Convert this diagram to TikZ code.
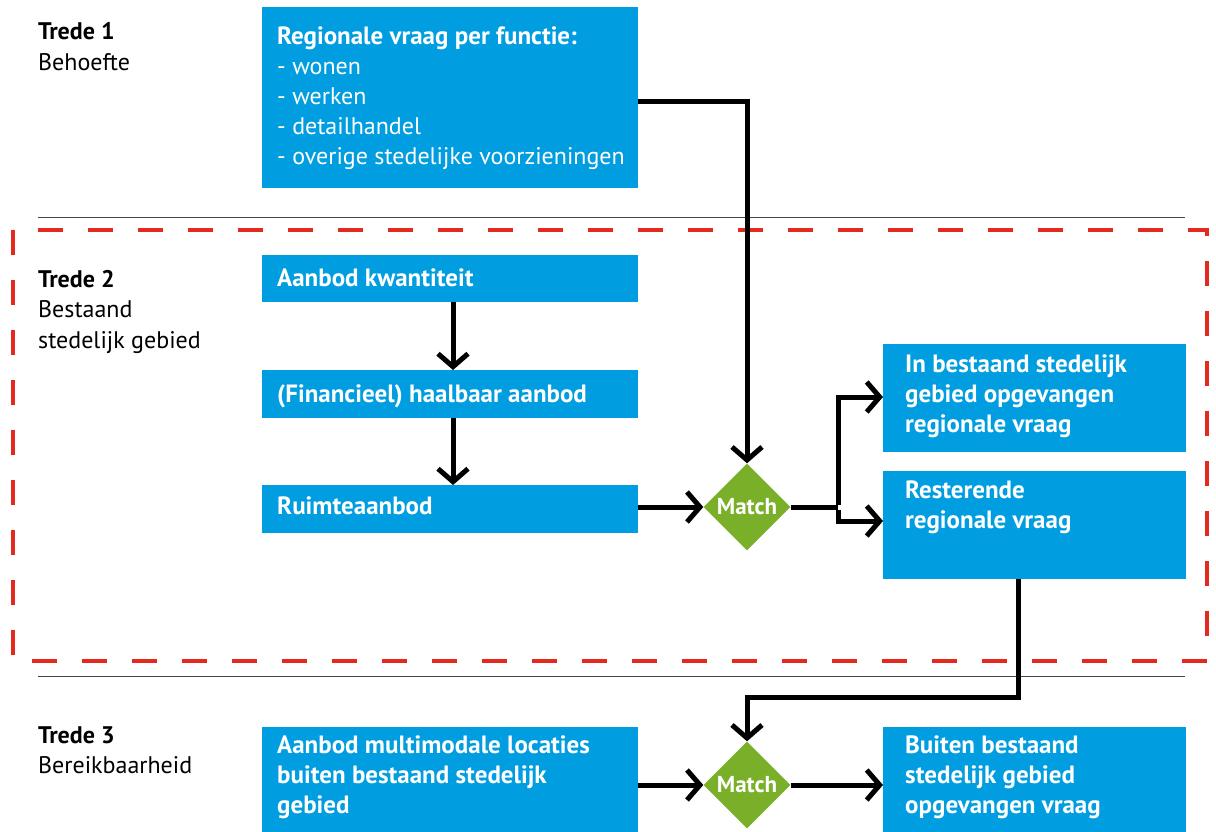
\documentclass[tikz,border=0pt]{standalone}
\usepackage{fontspec}
\setmainfont{PT Sans}
\usetikzlibrary{arrows.meta,shapes.geometric}
\definecolor{rblue}{RGB}{0,158,224}
\definecolor{mgreen}{RGB}{122,175,42}
\definecolor{dred}{RGB}{228,42,30}
\definecolor{sepgray}{RGB}{70,70,70}
\begin{document}
\begin{tikzpicture}[x=1pt,y=-1pt,
  box/.style={fill=rblue, draw=none, anchor=north west, inner sep=0pt, outer sep=0pt},
  txt/.style={anchor=base west, inner sep=0pt, text=white, font=\fontsize{25}{30}\selectfont\bfseries},
  lbl/.style={anchor=base west, inner sep=0pt, font=\fontsize{24}{30.5}\selectfont},
  match/.style={diamond, fill=mgreen, minimum width=87pt, minimum height=87pt, inner sep=0pt, text=white, font=\fontsize{23}{24}\selectfont\bfseries},
  con/.style={line width=5pt, line join=miter, -{Straight Barb[length=13pt,width=30pt]}},
  plain/.style={line width=5pt, line join=miter},
  sep/.style={draw=sepgray, line width=1pt},
  region/.style={draw=dred, line width=4.5pt, dash pattern=on 25pt off 25pt}
]
\useasboundingbox (0,0) rectangle (1216,832);

% separators and region
\draw[sep] (38,217) -- (1185,217);
\draw[sep] (38,676) -- (1185,676);
\draw[region] (13,230) rectangle (1207,661);

% left labels
\node[lbl] (l1) at (38,40) {\parbox[t]{220pt}{\bfseries Trede 1\\\mdseries Behoefte}};
\node[lbl] (l2) at (38,287) {\parbox[t]{220pt}{\bfseries Trede 2\\\mdseries Bestaand\\stedelijk gebied}};
\node[lbl] (l3) at (38,743) {\parbox[t]{220pt}{\bfseries Trede 3\\\mdseries Bereikbaarheid}};

% boxes
\node[box, minimum width=376pt, minimum height=181pt] (b1) at (262,7) {};
\node[box, minimum width=376pt, minimum height=47pt] (b2) at (262,255) {};
\node[box, minimum width=376pt, minimum height=48pt] (b3) at (262,370) {};
\node[box, minimum width=376pt, minimum height=48pt] (b4) at (262,485) {};
\node[box, minimum width=303pt, minimum height=108pt] (b5) at (883,344) {};
\node[box, minimum width=303pt, minimum height=108pt] (b6) at (883,471) {};
\node[box, minimum width=376pt, minimum height=105pt] (b7) at (262,727) {};
\node[box, minimum width=303pt, minimum height=105pt] (b8) at (883,727) {};

% box texts
\node[txt] (t1) at (277,45) {\parbox[t]{360pt}{Regionale vraag per functie:\\\fontsize{24}{30}\selectfont\mdseries - wonen\\- werken\\- detailhandel\\- overige stedelijke voorzieningen}};
\node[txt] (t2) at (277,286) {Aanbod kwantiteit};
\node[txt] (t3) at (277,402) {(Financieel) haalbaar aanbod};
\node[txt] (t4) at (277,514) {Ruimteaanbod};
\node[txt] (t5) at (905,372) {\parbox[t]{280pt}{In bestaand stedelijk\\gebied opgevangen\\regionale vraag}};
\node[txt] (t6) at (905,498) {\parbox[t]{280pt}{Resterende\\regionale vraag}};
\node[txt] (t7) at (277,753) {\parbox[t]{360pt}{Aanbod multimodale locaties\\buiten bestaand stedelijk\\gebied}};
\node[txt] (t8) at (905,753) {\parbox[t]{280pt}{Buiten bestaand\\stedelijk gebied\\opgevangen vraag}};

% match diamonds
\node[match] (m1) at (747,507) {Match};
\node[match] (m2) at (747,785) {Match};

% connectors
\draw[con] (b2.south -| 453,0) -- (b3.north -| 453,0);
\draw[con] (b3.south -| 453,0) -- (b4.north -| 453,0);
\draw[con] ([yshift=-4.5pt]b1.east) -| (m1.north);
\draw[con] (b4.east |- m1.west) -- (m1.west);
\coordinate (split) at (838,507);
\draw[plain] (m1.east) -- (split);
\draw[con] ([yshift=2.5pt]split) |- ([yshift=1pt]b5.west);
\draw[con] ([yshift=-2.5pt]split) |- ([yshift=4pt]b6.west);
\coordinate (turn) at (1018,697);
\draw[con] (b6.south -| turn) -- (turn) -| (m2.north);
\draw[con] (b7.east |- m2.west) -- (m2.west);
\draw[con] (m2.east) -- (b8.west |- m2.east);
\end{tikzpicture}
\end{document}
